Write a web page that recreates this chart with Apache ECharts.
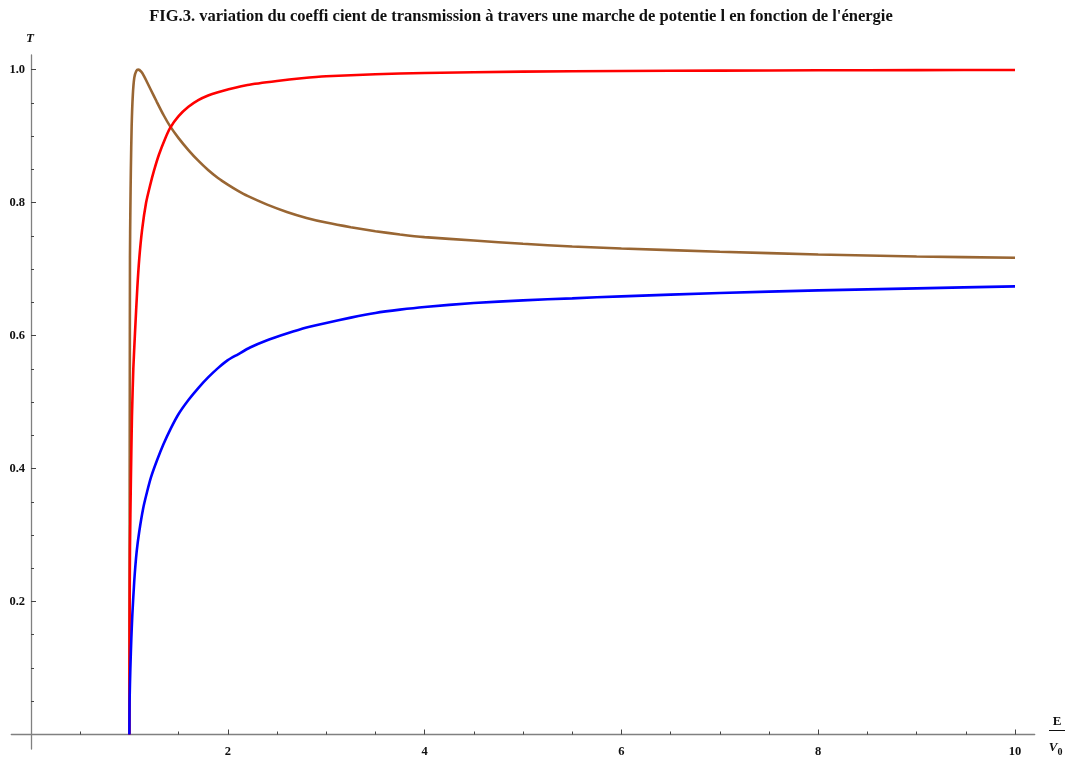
<!DOCTYPE html>
<html>
<head>
<meta charset="utf-8">
<script src="https://cdn.jsdelivr.net/npm/echarts@6/dist/echarts.min.js"></script>
<style>html,body{margin:0;padding:0;background:#fff}#c{width:1067px;height:758px}</style>
</head>
<body>
<div id="c"></div>
<script>
// Data (x = E/V0, y = T)
const redX   = [1, 1.002, 1.006, 1.015, 1.026, 1.04, 1.057, 1.08, 1.10, 1.13, 1.17, 1.209, 1.25, 1.3, 1.36, 1.413, 1.5, 1.6, 1.7, 1.8, 1.9, 2.0, 2.2, 2.5, 2.75, 3.0, 3.5, 4.0, 5.0, 6.0, 7, 8, 9, 10];
const redY   = [0, 0.17, 0.28, 0.38, 0.478, 0.55, 0.604, 0.67, 0.715, 0.76, 0.80, 0.825, 0.848, 0.872, 0.895, 0.912, 0.93, 0.944, 0.954, 0.961, 0.966, 0.970, 0.977, 0.983, 0.987, 0.990, 0.993, 0.995, 0.997, 0.998, 0.9985, 0.999, 0.9993, 0.9995];
const blueX  = [1, 1.002, 1.01, 1.02, 1.03, 1.05, 1.074, 1.1, 1.14, 1.18, 1.22, 1.28, 1.345, 1.42, 1.5, 1.6, 1.7, 1.8, 1.9, 2.0, 2.1, 2.226, 2.4, 2.6, 2.8, 3.0, 3.25, 3.5, 3.75, 4.0, 4.5, 5.0, 5.5, 6.0, 7.0, 8.0, 9.0, 10];
const blueY  = [0, 0.05, 0.10, 0.145, 0.18, 0.232, 0.275, 0.305, 0.34, 0.365, 0.387, 0.412, 0.436, 0.46, 0.482, 0.503, 0.521, 0.537, 0.551, 0.563, 0.5715, 0.582, 0.593, 0.603, 0.612, 0.619, 0.627, 0.634, 0.639, 0.643, 0.649, 0.653, 0.656, 0.659, 0.664, 0.668, 0.671, 0.674];
const brownX = [1, 1.002, 1.004, 1.006, 1.01, 1.015, 1.023, 1.035, 1.05, 1.07, 1.09, 1.12, 1.15, 1.18, 1.22, 1.277, 1.35, 1.413, 1.5, 1.6, 1.7, 1.8, 1.9, 2.0, 2.1, 2.2, 2.4, 2.6, 2.8, 3.0, 3.25, 3.5, 3.75, 4.0, 4.5, 5.0, 5.5, 6.0, 7.0, 8.0, 9.0, 10];
const brownY = [0, 0.25, 0.5, 0.72, 0.79, 0.85, 0.915, 0.962, 0.988, 0.998, 1.0, 0.997, 0.990, 0.981, 0.969, 0.952, 0.931, 0.915, 0.897, 0.879, 0.863, 0.849, 0.837, 0.827, 0.818, 0.810, 0.797, 0.786, 0.777, 0.770, 0.763, 0.757, 0.752, 0.748, 0.743, 0.738, 0.734, 0.731, 0.726, 0.722, 0.719, 0.717];

const xMajorTicks = [2, 4, 6, 8, 10];
const xMinorTicks = [0.5, 1, 1.5, 2.5, 3, 3.5, 4.5, 5, 5.5, 6.5, 7, 7.5, 8.5, 9, 9.5];
const yMajorTicks = [0.2, 0.4, 0.6, 0.8, 1.0];
const yMinorTicks = [0.05, 0.1, 0.15, 0.25, 0.3, 0.35, 0.45, 0.5, 0.55, 0.65, 0.7, 0.75, 0.85, 0.9, 0.95];

const titleText = "FIG.3. variation du coeffi cient de transmission à travers une marche de potentie l en fonction de l'énergie";

const pairs = (xs, ys) => xs.map((x, i) => [x, ys[i]]);

const serif = "'Liberation Serif', 'DejaVu Serif', serif";
const axisColor = '#808080';
const X_OFF = -14.6, Y_OFF = -19.7;

const chart = echarts.init(document.getElementById('c'), null, {renderer: 'canvas'});
chart.setOption({
  animation: false,
  backgroundColor: '#ffffff',
  grid: {left: 11.3, right: 32.3, top: 55, bottom: 8.9, containLabel: false, outerBoundsMode: 'none'},
  xAxis: [
    {
      type: 'value', min: -0.2, max: 10.2, position: 'bottom', offset: X_OFF,
      axisLine: {show: true, onZero: false, lineStyle: {color: axisColor, width: 1.3}},
      axisTick: {show: true, inside: true, length: 5, customValues: xMajorTicks, lineStyle: {color: '#444', width: 1}},
      axisLabel: {show: true, customValues: xMajorTicks, margin: 11, fontFamily: serif, fontWeight: 'bold', fontSize: 12.5, color: '#111'},
      splitLine: {show: false}
    },
    {
      type: 'value', min: -0.2, max: 10.2, position: 'bottom', offset: X_OFF,
      axisLine: {show: false, onZero: false},
      axisTick: {show: true, inside: true, length: 3, customValues: xMinorTicks, lineStyle: {color: '#444', width: 1}},
      axisLabel: {show: false},
      splitLine: {show: false}
    }
  ],
  yAxis: [
    {
      type: 'value', min: -0.022, max: 1.022, position: 'left', offset: Y_OFF,
      axisLine: {show: true, onZero: false, lineStyle: {color: axisColor, width: 1.3}},
      axisTick: {show: true, inside: true, length: 5, customValues: yMajorTicks, lineStyle: {color: '#444', width: 1}},
      axisLabel: {show: true, customValues: yMajorTicks, margin: 6, formatter: v => v.toFixed(1), fontFamily: serif, fontWeight: 'bold', fontSize: 12.5, color: '#111'},
      splitLine: {show: false}
    },
    {
      type: 'value', min: -0.022, max: 1.022, position: 'left', offset: Y_OFF,
      axisLine: {show: false, onZero: false},
      axisTick: {show: true, inside: true, length: 3, customValues: yMinorTicks, lineStyle: {color: '#444', width: 1}},
      axisLabel: {show: false},
      splitLine: {show: false}
    }
  ],
  series: [
    {type: 'line', name: 'brown', xAxisIndex: 0, yAxisIndex: 0, data: pairs(brownX, brownY), showSymbol: false, smooth: 0.2, lineStyle: {color: '#996633', width: 2.6}, z: 2},
    {type: 'line', name: 'red', xAxisIndex: 0, yAxisIndex: 0, data: pairs(redX, redY), showSymbol: false, smooth: 0.2, lineStyle: {color: '#ff0000', width: 2.6}, z: 3},
    {type: 'line', name: 'blue', xAxisIndex: 0, yAxisIndex: 0, data: pairs(blueX, blueY), showSymbol: false, smooth: 0.2, lineStyle: {color: '#0000ff', width: 2.6}, z: 4}
  ],
  graphic: [
    {type: 'text', x: 521, y: 17, style: {text: titleText, font: "bold 16.5px 'Liberation Serif', serif", fill: '#111', textAlign: 'center', textVerticalAlign: 'middle'}},
    {type: 'text', x: 30, y: 39, style: {text: 'T', font: "italic bold 13px 'Liberation Serif', serif", fill: '#111', textAlign: 'center', textVerticalAlign: 'middle'}},
    {type: 'text', x: 1057, y: 722, style: {text: 'E', font: "bold 13px 'Liberation Serif', serif", fill: '#111', textAlign: 'center', textVerticalAlign: 'middle'}},
    {type: 'line', shape: {x1: 1049, y1: 730.5, x2: 1065, y2: 730.5}, style: {stroke: '#111', lineWidth: 1}},
    {type: 'text', x: 1053, y: 748, style: {text: 'V', font: "italic bold 13px 'Liberation Serif', serif", fill: '#111', textAlign: 'center', textVerticalAlign: 'middle'}},
    {type: 'text', x: 1060, y: 752, style: {text: '0', font: "bold 10px 'Liberation Serif', serif", fill: '#111', textAlign: 'center', textVerticalAlign: 'middle'}}
  ]
});
</script>
</body>
</html>
